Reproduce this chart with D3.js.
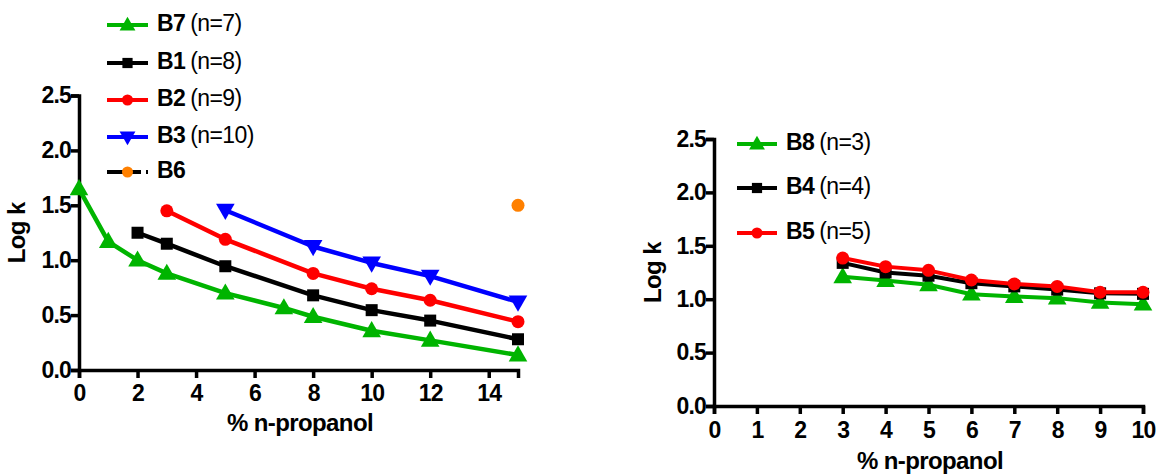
<!DOCTYPE html>
<html>
<head>
<meta charset="utf-8">
<script src="https://cdn.jsdelivr.net/npm/d3@7"></script>
<style>
  html, body { margin: 0; padding: 0; background: #fff; }
  svg { display: block; font-family: "Liberation Sans", Arial, sans-serif; }
  .tick text { font-family: "Liberation Sans", Arial, sans-serif; font-weight: bold; font-size: 23px; letter-spacing: -0.8px; fill: #000; }
  .axis path, .axis line { stroke: #000; stroke-width: 3.5px; }
</style>
</head>
<body>
<svg id="chart" width="1161" height="474"></svg>
<script>
// ---- Left panel: % n-propanol vs Log k ----
const b7X = [0, 1, 2, 3, 5, 7, 8, 10, 12, 15];
const b7Y = [1.65, 1.17, 1.00, 0.88, 0.70, 0.565, 0.485, 0.357, 0.27, 0.136];
const b1X = [2, 3, 5, 8, 10, 12, 15];
const b1Y = [1.25, 1.15, 0.945, 0.68, 0.545, 0.45, 0.28];
const b2X = [3, 5, 8, 10, 12, 15];
const b2Y = [1.45, 1.19, 0.88, 0.74, 0.635, 0.44];
const b3X = [5, 8, 10, 12, 15];
const b3Y = [1.455, 1.125, 0.975, 0.855, 0.62];
const b6X = [15];
const b6Y = [1.5];
const leftXTicks = [0, 2, 4, 6, 8, 10, 12, 14];
const yTicks = [0.0, 0.5, 1.0, 1.5, 2.0, 2.5];

// ---- Right panel ----
const rightX = [3, 4, 5, 6, 7, 8, 9, 10];
const b8Y = [1.21, 1.175, 1.135, 1.047, 1.025, 1.01, 0.97, 0.953];
const b4Y = [1.34, 1.25, 1.22, 1.15, 1.12, 1.09, 1.055, 1.05];
const b5Y = [1.385, 1.305, 1.27, 1.18, 1.143, 1.12, 1.065, 1.065];
const rightXTicks = [0, 1, 2, 3, 4, 5, 6, 7, 8, 9, 10];

const GREEN = "#00b400", BLACK = "#000000", RED = "#ff0000", BLUE = "#0000ff", ORANGE = "#ff8000";

const svg = d3.select("#chart");

function marker(g, shape, color, x, y, s = 1) {
  if (shape === "circle") {
    g.append("circle").attr("cx", x).attr("cy", y).attr("r", 6.5 * s).attr("fill", color);
  } else if (shape === "square") {
    const h = 6 * s;
    g.append("rect").attr("x", x - h).attr("y", y - h).attr("width", 2 * h).attr("height", 2 * h).attr("fill", color);
  } else if (shape === "up") {
    g.append("path").attr("d", d3.symbol(d3.symbolTriangle, 150 * s * s)()).attr("transform", `translate(${x},${y + 1})`).attr("fill", color);
  } else if (shape === "down") {
    g.append("path").attr("d", d3.symbol(d3.symbolTriangle, 150 * s * s)()).attr("transform", `translate(${x},${y - 1}) rotate(180)`).attr("fill", color);
  }
}

function drawSeries(g, xs, ys, xScale, yScale, color, shape, withLine, width) {
  const pts = xs.map((x, i) => [xScale(x), yScale(ys[i])]);
  if (withLine && pts.length > 1) {
    g.append("path").attr("d", d3.line()(pts)).attr("fill", "none")
      .attr("stroke", color).attr("stroke-width", width).attr("stroke-linejoin", "round");
  }
  pts.forEach(p => marker(g, shape, color, p[0], p[1]));
}

function drawAxes(g, xScale, yScale, xTicks, xLabelY, titleY, titleX, yTitleX) {
  const xAxis = g.append("g").attr("class", "axis")
    .attr("transform", `translate(0,${yScale(0)})`)
    .call(d3.axisBottom(xScale).tickValues(xTicks).tickFormat(d3.format("d")).tickSize(8).tickPadding(6));
  xAxis.selectAll(".tick text").attr("y", xLabelY - yScale(0)).attr("dy", "0.35em");
  const yAxis = g.append("g").attr("class", "axis")
    .attr("transform", `translate(${xScale(0)},0)`)
    .call(d3.axisLeft(yScale).tickValues(yTicks).tickFormat(d3.format(".1f")).tickSize(8).tickPadding(0));
  [xAxis, yAxis].forEach(a => a.select(".domain").attr("stroke-width", 3.5));

  g.append("text").attr("x", titleX).attr("y", titleY)
    .attr("text-anchor", "middle").attr("dominant-baseline", "middle")
    .attr("font-weight", "bold").attr("font-size", 24).attr("letter-spacing", "-0.6px")
    .text("% n-propanol");
  const yMid = (yScale(0) + yScale(2.5)) / 2;
  g.append("text").attr("transform", `translate(${yTitleX},${yMid}) rotate(-90)`)
    .attr("text-anchor", "middle").attr("dominant-baseline", "middle")
    .attr("font-weight", "bold").attr("font-size", 24).attr("letter-spacing", "-0.6px")
    .text("Log k");
}

function legendItem(g, x0, x1, y, color, shape, name, note, dashed) {
  const line = g.append("line").attr("x1", x0).attr("x2", x1).attr("y1", y).attr("y2", y)
    .attr("stroke", dashed ? BLACK : color).attr("stroke-width", 4);
  if (dashed) line.attr("stroke-dasharray", "34,5,2,100");
  marker(g, shape, color, (x0 + x1) / 2, y, 0.85);
  const t = g.append("text").attr("x", x1 + 9).attr("y", y).attr("dominant-baseline", "middle")
    .attr("letter-spacing", "-0.6px");
  t.append("tspan").attr("font-weight", "bold").attr("font-size", 23).text(name);
  if (note) t.append("tspan").attr("dx", 5).attr("font-size", 23).text(note);
}

// Left panel
const xL = d3.scaleLinear().domain([0, 15]).range([79, 518]);
const yL = d3.scaleLinear().domain([0, 2.5]).range([370, 95.5]);
const gL = svg.append("g");
drawAxes(gL, xL, yL, leftXTicks, 393, 425, 300, 19);
drawSeries(gL, b3X, b3Y, xL, yL, BLUE, "down", true, 4.5);
drawSeries(gL, b2X, b2Y, xL, yL, RED, "circle", true, 4.5);
drawSeries(gL, b1X, b1Y, xL, yL, BLACK, "square", true, 4.5);
drawSeries(gL, b7X, b7Y, xL, yL, GREEN, "up", true, 4.5);
drawSeries(gL, b6X, b6Y, xL, yL, ORANGE, "circle", false, 4.5);

legendItem(gL, 107, 148, 25, GREEN, "up", "B7", "(n=7)");
legendItem(gL, 107, 148, 63, BLACK, "square", "B1", "(n=8)");
legendItem(gL, 107, 148, 100, RED, "circle", "B2", "(n=9)");
legendItem(gL, 107, 148, 137, BLUE, "down", "B3", "(n=10)");
legendItem(gL, 107, 148, 172, ORANGE, "circle", "B6", null, true);

// Right panel
const xR = d3.scaleLinear().domain([0, 10]).range([714, 1143]);
const yR = d3.scaleLinear().domain([0, 2.5]).range([406, 139]);
const gR = svg.append("g");
drawAxes(gR, xR, yR, rightXTicks, 430, 463, 930, 655);
drawSeries(gR, rightX, b8Y, xR, yR, GREEN, "up", true, 4);
drawSeries(gR, rightX, b4Y, xR, yR, BLACK, "square", true, 4);
drawSeries(gR, rightX, b5Y, xR, yR, RED, "circle", true, 4);

legendItem(gR, 737, 777, 144, GREEN, "up", "B8", "(n=3)");
legendItem(gR, 737, 777, 188, BLACK, "square", "B4", "(n=4)");
legendItem(gR, 737, 777, 233, RED, "circle", "B5", "(n=5)");
</script>
</body>
</html>
